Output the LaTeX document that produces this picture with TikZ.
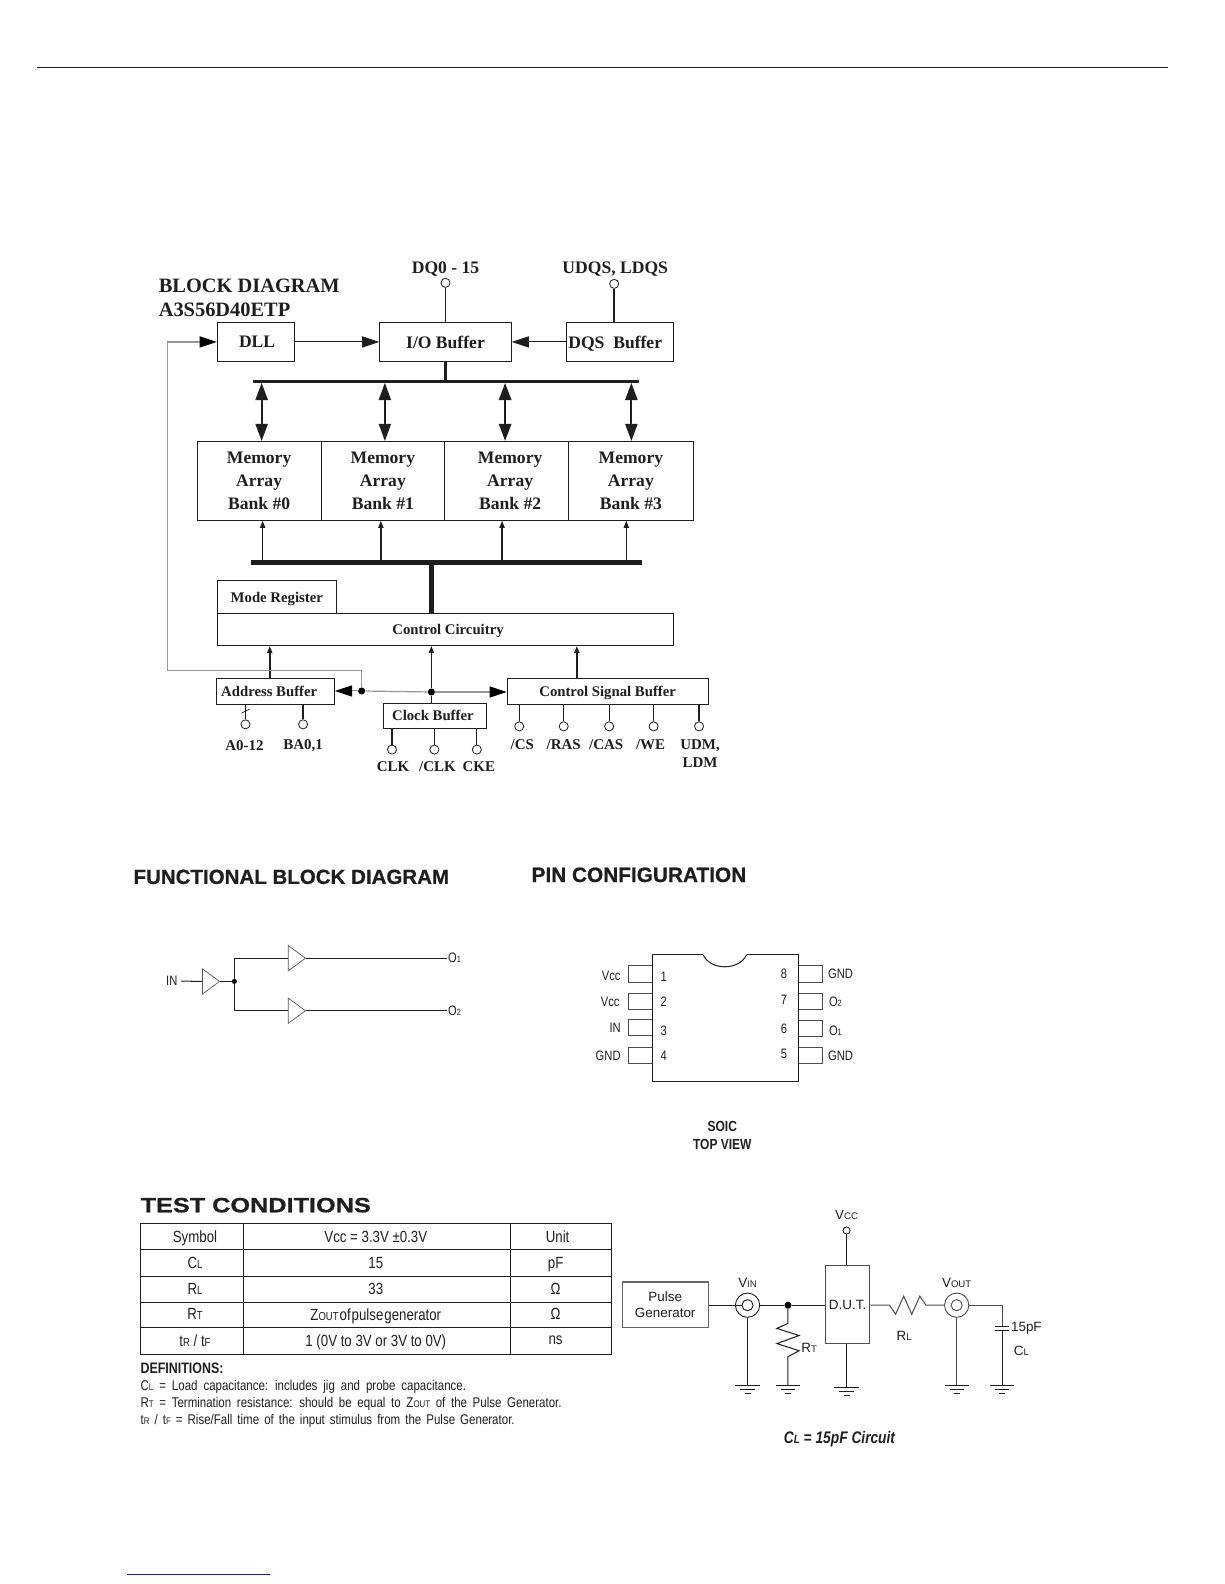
\documentclass[tikz,border=0pt]{standalone}
\usepackage{fontspec}
\setmainfont{Liberation Sans}
\newfontfamily\blockfont{Liberation Serif}
\newfontfamily\narrowfont[FakeStretch=0.82]{Liberation Sans}
\newfontfamily\headfont[BoldFeatures={FakeBold=0.6}]{Liberation Sans}
\newfontfamily\widefont[FakeStretch=1.22,BoldFeatures={FakeBold=0.8}]{Liberation Sans}
\usepackage{xcolor}
\usepackage{tikz}
\usetikzlibrary{arrows.meta,calc,positioning,shapes.geometric}
\definecolor{feedgray}{RGB}{150,150,150}
\definecolor{inkblack}{RGB}{30,30,30}
\definecolor{footblue}{RGB}{20,20,160}
\newcommand{\fsz}[2]{\fontsize{#1}{#2}\selectfont}
\newcommand{\smcap}[2][9.5]{{\fontsize{#1}{10}\selectfont #2}}
\newcommand{\wordgap}[1]{\spaceskip=#1pt\relax}

\begin{document}
\begin{tikzpicture}[
      x=1pt, y=-1pt,
      text=inkblack, draw=inkblack,
      box/.style={draw, align=center, inner sep=0pt, text depth=0pt, font=\blockfont\bfseries\fsz{17.4}{23}, line width=0.9pt},
      smallbox/.style={box, font=\blockfont\bfseries\fsz{14.6}{17}},
      lbl/.style={font=\blockfont\bfseries\fsz{17.4}{20}, inner sep=0pt, text depth=0pt},
      pinlbl/.style={font=\blockfont\bfseries\fsz{14.8}{18}, align=center, inner sep=0pt},
      pinc/.style={circle, draw, fill=white, minimum size=9pt, inner sep=0pt, line width=0.8pt},
      wire/.style={line width=1pt},
      pinwire/.style={line width=1.2pt},
      bigarr/.style={wire, -{Triangle[length=17pt,width=11pt]}},
      dbl/.style={line width=2pt, {Triangle[length=17pt,width=12pt]}-{Triangle[length=17pt,width=12pt]}, shorten <=0pt},
      upa/.style={line width=1.5pt, -{Triangle[length=7pt,width=5pt]}},
      feed/.style={line width=1.2pt, draw=feedgray},
      dotn/.style={circle, fill=black, minimum size=7pt, inner sep=0pt},
      head/.style={font=\headfont\bfseries\fsz{20.3}{22}, anchor=west, inner sep=0pt},
      amp/.style={draw=black!65, isosceles triangle, isosceles triangle stretches, minimum width=25pt, minimum height=17pt, inner sep=0pt, anchor=lower side, line width=0.7pt},
      lead/.style={draw=black!70, minimum width=24pt, minimum height=16pt, inner sep=0pt, line width=0.8pt},
      sans/.style={font=\narrowfont\fsz{13.5}{15}, inner sep=0.5pt},
      cell/.style={font=\narrowfont\fsz{16}{18}, inner sep=0pt, text depth=0pt},
      defn/.style={font=\narrowfont\fsz{13.9}{15}, anchor=west, inner sep=0pt},
      plain/.style={font=\fsz{13.3}{15}, inner sep=0.5pt, align=center},
      tabline/.style={line width=1pt},
      gnd/.pic={\draw[wire, line width=0.9pt] (-12,0) -- (12,0) (-7,4) -- (7,4) (-3,8) -- (3,8);}
    ]
    \useasboundingbox (0,0) rectangle (1212,1568);
    \coordinate (rulea) at (37,67);
    \coordinate (ruleb) at (1156,67);
    \draw[line width=0.9pt] (rulea) -- (ruleb);
    \coordinate (foota) at (126,1559);
    \coordinate (footb) at (267,1559);
    \draw[line width=1pt, footblue] (foota) -- (footb);

    % memory block diagram
    \node[font=\blockfont\bfseries\fsz{20.2}{24}, anchor=west, inner sep=0pt] (title1) at (157,283) {BLOCK DIAGRAM};
    \node[font=\blockfont\bfseries\fsz{20.2}{24}, anchor=west, inner sep=0pt] (title2) at (157,307) {A3S56D40ETP};
    \node[box, minimum width=76pt, minimum height=39pt] (dll) at (253,338.5) {DLL\hspace*{-3pt}};
    \node[box, minimum width=130pt, minimum height=39pt] (iobuf) at (441,338.5) {I/O Buffer};
    \node[box, minimum width=106pt, minimum height=39pt] (dqsbuf) at (614,338.5) {DQS\ \ Buffer\hspace*{10pt}};
    \node[pinc] (dq) at (441,280) {};
    \node[pinc] (udqs) at (608,281) {};
    \node[lbl] (dqlbl) at (441,265) {DQ0 - 15};
    \node[lbl] (udqslbl) at (609,265) {UDQS, LDQS};
    \draw[line width=1.5pt] (dq) -- (iobuf.north);
    \draw[line width=1.5pt] (udqs) -- (udqs |- dqsbuf.north);
    \draw[bigarr] (dll) -- (iobuf);
    \draw[bigarr] (dqsbuf) -- (iobuf);

    \node[box, minimum width=123pt, minimum height=78pt] (bank0) at (256.5,476) {Memory\\Array\\Bank \#0};
    \node[box, minimum width=122pt, minimum height=78pt] (bank1) at (379,476) {Memory\\Array\\Bank \#1};
    \node[box, minimum width=123pt, minimum height=78pt] (bank2) at (501.5,476) {\hspace*{7pt}Memory\\\hspace*{7pt}Array\\\hspace*{7pt}Bank \#2};
    \node[box, minimum width=123pt, minimum height=78pt] (bank3) at (624.5,476) {Memory\\Array\\Bank \#3};

    \coordinate (busa) at (250,378);
    \coordinate (busb) at (633,378);
    \draw[line width=3pt] (busa) -- (busb);
    \draw[line width=2pt] (iobuf) -- (iobuf |- busa);
    \coordinate (tap0) at (259,379);
    \coordinate (tap1) at (381,379);
    \coordinate (tap2) at (500,379);
    \coordinate (tap3) at (625,379);
    \draw[dbl] (tap0) -- (tap0 |- bank0.north);
    \draw[dbl, line width=1.5pt] (tap1) -- (tap1 |- bank1.north);
    \draw[dbl, line width=2.5pt] (tap2) -- (tap2 |- bank2.north);
    \draw[dbl] (tap3) -- (tap3 |- bank3.north);

    \coordinate (busc) at (248,557);
    \coordinate (busd) at (636,557);
    \coordinate (drop0) at (260,557);
    \coordinate (drop1) at (377,557);
    \coordinate (drop2) at (497,557);
    \coordinate (drop3) at (620,557);
    \draw[upa] (drop0) -- (drop0 |- bank0.south);
    \draw[upa] (drop1) -- (drop1 |- bank1.south);
    \draw[upa] (drop2) -- (drop2 |- bank2.south);
    \draw[upa] (drop3) -- (drop3 |- bank3.south);
    \draw[line width=5pt] (busc) -- (busd);

    \node[smallbox, minimum width=452pt, minimum height=32pt] (ctrl) at (441,623) {\hspace*{5pt}Control Circuitry};
    \node[smallbox, minimum width=118pt, minimum height=32pt, line width=1.2pt] (moder) at (274,591) {Mode Register};
    \coordinate (trunk) at (427,557);
    \draw[line width=5pt] (trunk) -- (trunk |- ctrl.north);

    \node[smallbox, minimum width=117pt, minimum height=25pt] (addr) at (272.5,684.5) {Address Buffer\hspace*{12pt}};
    \node[smallbox, minimum width=102pt, minimum height=25pt] (clock) at (431,708.5) {Clock Buffer\hspace*{5pt}};
    \node[smallbox, minimum width=199pt, minimum height=25pt] (sig) at (601.5,684.5) {Control Signal Buffer};
    \node[dotn] (adot) at (358,684) {};
    \node[dotn] (cdot) at (427,685) {};
    \coordinate (addrout) at (267,672);
    \coordinate (sigout) at (571,672);
    \draw[upa, line width=1.8pt] (addrout) -- (addrout |- ctrl.south);
    \draw[upa] (cdot) -- (cdot |- ctrl.south);
    \draw[upa, line width=1.8pt] (sigout) -- (sigout |- ctrl.south);
    \draw[wire] (cdot) -- (cdot |- clock.north);
    \draw[feed] (adot) -- (cdot);
    \draw[bigarr, feedgray, -{Triangle[length=17pt,width=11pt,black]}] (cdot) -- (cdot -| sig.west);
    \draw[bigarr, feedgray, -{Triangle[length=17pt,width=11pt,black]}] (adot) -- (adot -| addr.east);
    \coordinate (feed1) at (358,664);
    \coordinate (feed2) at (166,664);
    \draw[feed, -{Triangle[length=17pt,width=11pt,black]}] (adot) -- (feed1) -- (feed2) |- (dll.west);

    \node[pinc] (pa) at (243,717) {};
    \node[pinc] (pba) at (300,717) {};
    \node[pinlbl] (palbl) at (242,738) {A0-12};
    \node[pinlbl] (pbalbl) at (300,738) {BA0,1};
    \draw[pinwire] (pa) -- (pa |- addr.south);
    \coordinate (slasha) at (239,706);
    \coordinate (slashb) at (247,702);
    \draw[line width=0.7pt] (slasha) -- (slashb);
    \draw[pinwire] (pba) -- (pba |- addr.south);

    \node[pinc] (pclk) at (388,742) {};
    \node[pinc] (pnclk) at (430,742) {};
    \node[pinc] (pcke) at (472,742) {};
    \node[pinlbl] (clklbl) at (389,758.5) {CLK};
    \node[pinlbl] (nclklbl) at (433,758.5) {/CLK};
    \node[pinlbl] (ckelbl) at (474,758.5) {CKE};
    \draw[pinwire] (pclk) -- (pclk |- clock.south);
    \draw[pinwire] (pnclk) -- (pnclk |- clock.south);
    \draw[pinwire] (pcke) -- (pcke |- clock.south);

    \node[pinc] (pcs) at (514,719) {};
    \node[pinc] (pras) at (558,719) {};
    \node[pinc] (pcas) at (603,719) {};
    \node[pinc] (pwe) at (647,719) {};
    \node[pinc] (pudm) at (692,719) {};
    \node[pinlbl] (cslbl) at (517,737) {/CS};
    \node[pinlbl] (raslbl) at (558,737) {/RAS};
    \node[pinlbl] (caslbl) at (600,737) {/CAS};
    \node[pinlbl] (welbl) at (644,737) {/WE};
    \node[pinlbl, anchor=north] (udmlbl) at (693,732) {UDM,\\LDM};
    \draw[pinwire] (pcs) -- (pcs |- sig.south);
    \draw[pinwire] (pras) -- (pras |- sig.south);
    \draw[pinwire] (pcas) -- (pcas |- sig.south);
    \draw[pinwire] (pwe) -- (pwe |- sig.south);
    \draw[pinwire] (pudm) -- (pudm |- sig.south);

    % buffer and pinout
    \node[head] (funchead) at (132,868) {FUNCTIONAL BLOCK DIAGRAM};
    \node[head, font=\headfont\bfseries\fsz{20.6}{22}] (pinhead) at (526,866) {PIN CONFIGURATION};
    \node[sans] (inlbl) at (170,971) {IN};
    \node[amp] (amp1) at (200,971.5) {};
    \node[amp] (amp2) at (285,948.5) {};
    \node[amp] (amp3) at (285,1000.5) {};
    \node[dotn, minimum size=5pt] (fdot) at (232,971.5) {};
    \node[sans] (o1lbl) at (450,948.5) {O\smcap[9]{1}};
    \node[sans] (o2lbl) at (450,1000.5) {O\smcap[9]{2}};
    \draw[wire, shorten <=3pt] (inlbl) -- (amp1.lower side);
    \draw[wire] (amp1.apex) -- (fdot);
    \draw[wire] (fdot) |- (amp2.lower side);
    \draw[wire] (fdot) |- (amp3.lower side);
    \draw[wire] (amp2.apex) -- (o1lbl);
    \draw[wire] (amp3.apex) -- (o2lbl);

    \node[lead] (lead1) at (634,964) {};
    \node[lead] (lead2) at (634,991) {};
    \node[lead] (lead3) at (634,1017) {};
    \node[lead] (lead4) at (634,1044.5) {};
    \node[lead] (lead8) at (802,964) {};
    \node[lead] (lead7) at (802,991) {};
    \node[lead] (lead6) at (802,1018) {};
    \node[lead] (lead5) at (802,1044.5) {};
    \node[draw, fill=white, minimum width=144pt, minimum height=126pt, line width=1.1pt] (chip) at (718,1008) {};
    \fill[white] (696,943.5) rectangle (739,946.5);
    \draw[line width=1pt, fill=white] (696,945) .. controls (703,961) and (732,961) .. (739,945);
    \node[sans] (n1) at (657,967) {1};
    \node[sans] (n2) at (657,992) {2};
    \node[sans] (n3) at (657,1020) {3};
    \node[sans] (n4) at (657,1045) {4};
    \node[sans] (n8) at (776,964) {8};
    \node[sans] (n7) at (776,990) {7};
    \node[sans] (n6) at (776,1018) {6};
    \node[sans] (n5) at (776,1043) {5};
    \node[sans] (vcc1) at (605,966) {Vcc};
    \node[sans] (vcc2) at (604,992) {Vcc};
    \node[sans] (inl) at (609,1017) {IN};
    \node[sans] (gndl) at (602,1045) {GND};
    \node[sans] (gnd8) at (832,964) {GND};
    \node[sans] (o2r) at (827,992) {O\smcap[9]{2}};
    \node[sans] (o1r) at (827,1020) {O\smcap[9]{1}};
    \node[sans] (gnd5) at (832,1045) {GND};
    \node[font=\narrowfont\bfseries\fsz{14.5}{18}, align=center, inner sep=0pt] (soic) at (715,1124) {SOIC\\TOP VIEW};

    % test conditions
    \node[head, font=\widefont\bfseries\fsz{20.5}{22}] (testhead) at (139,1193) {TEST CONDITIONS};
    \draw[tabline] (139,1211) rectangle (605,1341);
    \draw[tabline] (241,1211) -- (241,1341);
    \draw[tabline] (505,1211) -- (505,1341);
    \draw[tabline] (139,1237) -- (605,1237);
    \draw[tabline] (139,1264) -- (605,1264);
    \draw[tabline] (139,1289) -- (605,1289);
    \draw[tabline] (139,1314) -- (605,1314);
    \node[cell] (c11) at (193,1224) {Symbol};
    \node[cell] (c12) at (372,1224) {Vcc = 3.3V ±0.3V};
    \node[cell] (c13) at (552,1224) {Unit};
    \node[cell] (c21) at (193,1250) {C\smcap[11.5]{L}};
    \node[cell] (c22) at (372,1250) {15};
    \node[cell] (c23) at (550,1250) {pF};
    \node[cell] (c31) at (193,1276) {R\smcap[11.5]{L}};
    \node[cell] (c32) at (372,1276) {33};
    \node[cell] (c33) at (550,1276) {Ω};
    \node[cell] (c41) at (193,1301) {R\smcap[11.5]{T}};
    \node[cell] (c42) at (372,1301) {Z\smcap[11.5]{OUT}\hspace{1pt}of\hspace{1pt}pulse\hspace{1pt}generator};
    \node[cell] (c43) at (550,1301) {Ω};
    \node[cell] (c51) at (193,1327) {t\smcap[11.5]{R} / t\smcap[11.5]{F}};
    \node[cell] (c52) at (372,1327) {1 (0V to 3V or 3V to 0V)};
    \node[cell] (c53) at (550,1327) {ns};
    \node[defn, font=\narrowfont\bfseries\fsz{15}{16}] (def0) at (139,1354) {DEFINITIONS:};
    \node[defn] (def1) at (139,1372.5) {\wordgap{5.9}C\smcap{L} = Load capacitance: includes jig and probe capacitance.};
    \node[defn] (def2) at (139,1389.5) {\wordgap{5.6}R\smcap{T} = Termination resistance: should be equal to Z\smcap{OUT} of the Pulse Generator.};
    \node[defn] (def3) at (139,1406.5) {\wordgap{5}t\smcap{R} / t\smcap{F} = Rise/Fall time of the input stimulus from the Pulse Generator.};

    \node[draw=black!60, plain, minimum width=85pt, minimum height=45pt, line width=1.1pt] (pulse) at (658.5,1291.5) {Pulse\\Generator};
    \node[circle, draw, minimum size=24pt, inner sep=0pt, line width=0.9pt] (vinring) at (740,1292) {};
    \node[circle, draw, fill=white, minimum size=11pt, inner sep=0pt, line width=0.9pt] (vin) at (740,1292) {};
    \node[dotn] (tdot) at (780,1292) {};
    \node[draw=black!70, plain, minimum width=44pt, minimum height=77pt, line width=1.1pt] (dut) at (839,1291.5) {D.U.T.};
    \node[circle, draw, fill=white, minimum size=7pt, inner sep=0pt, line width=0.8pt] (vccpin) at (838,1218) {};
    \node[plain] (vcclbl) at (838,1203) {V\smcap{CC}};
    \node[plain] (vinlbl) at (740,1270) {V\smcap{IN}};
    \node[plain] (voutlbl) at (947,1270) {V\smcap{OUT}};
    \node[circle, draw=black!70, minimum size=24pt, inner sep=0pt, line width=0.9pt] (voutring) at (947,1292) {};
    \node[circle, draw=black!70, fill=white, minimum size=11pt, inner sep=0pt, line width=0.9pt] (vout) at (947,1292) {};
    \node[plain] (rtlbl) at (801,1334) {R\smcap{T}};
    \node[plain] (rllbl) at (895,1322) {R\smcap{L}};
    \node[plain] (cval) at (1016,1315) {15pF};
    \node[plain] (cllbl) at (1011,1337) {C\smcap{L}};
    \node[font=\narrowfont\bfseries\itshape\fsz{16.6}{18}, inner sep=0pt] (circap) at (831,1424.5) {C\smcap[12]{L} = 15pF Circuit};

    \coordinate (g1) at (740,1371);
    \coordinate (g2) at (780,1371);
    \coordinate (g3) at (838,1373);
    \coordinate (g4) at (947,1371);
    \coordinate (g5) at (992,1371);
    \coordinate (capnode) at (992,1292);
    \coordinate (captop) at (992,1313);
    \coordinate (capbot) at (992,1317);
    \draw[wire] (pulse.east |- vin) -- (vin);
    \draw[wire] (vinring) -- (tdot);
    \draw[wire] (tdot) -- (tdot -| dut.west);
    \draw[wire] (vinring) -- (g1);
    \draw[wire] (vccpin) -- (vccpin |- dut.north);
    \draw[wire] (g3 |- dut.south) -- (g3);
    \draw[wire] (tdot) -- ++(0,18) -- ++(-11,5) -- ++(22,7) -- ++(-22,8) -- ++(22,7) -- ++(-11,6) -- (g2);
    \draw[wire, black!70] (dut.east |- vout) -- ++(19,0) -- ++(6,9) -- ++(8,-18) -- ++(8,18) -- ++(8,-18) -- ++(6,9) -- (voutring);
    \draw[wire, black!70] (voutring) -- (g4);
    \draw[wire, black!70] (voutring) -- (capnode) -- (captop);
    \draw[wire] (capbot) -- (g5);
    \draw[line width=1.1pt] ([xshift=-7pt]captop) -- ([xshift=7pt]captop);
    \draw[line width=1.1pt] ([xshift=-7pt]capbot) -- ([xshift=7pt]capbot);
    \pic at (g1) {gnd};
    \pic at (g2) {gnd};
    \pic at (g3) {gnd};
    \pic at (g4) {gnd};
    \pic at (g5) {gnd};
  \end{tikzpicture}
\end{document}
